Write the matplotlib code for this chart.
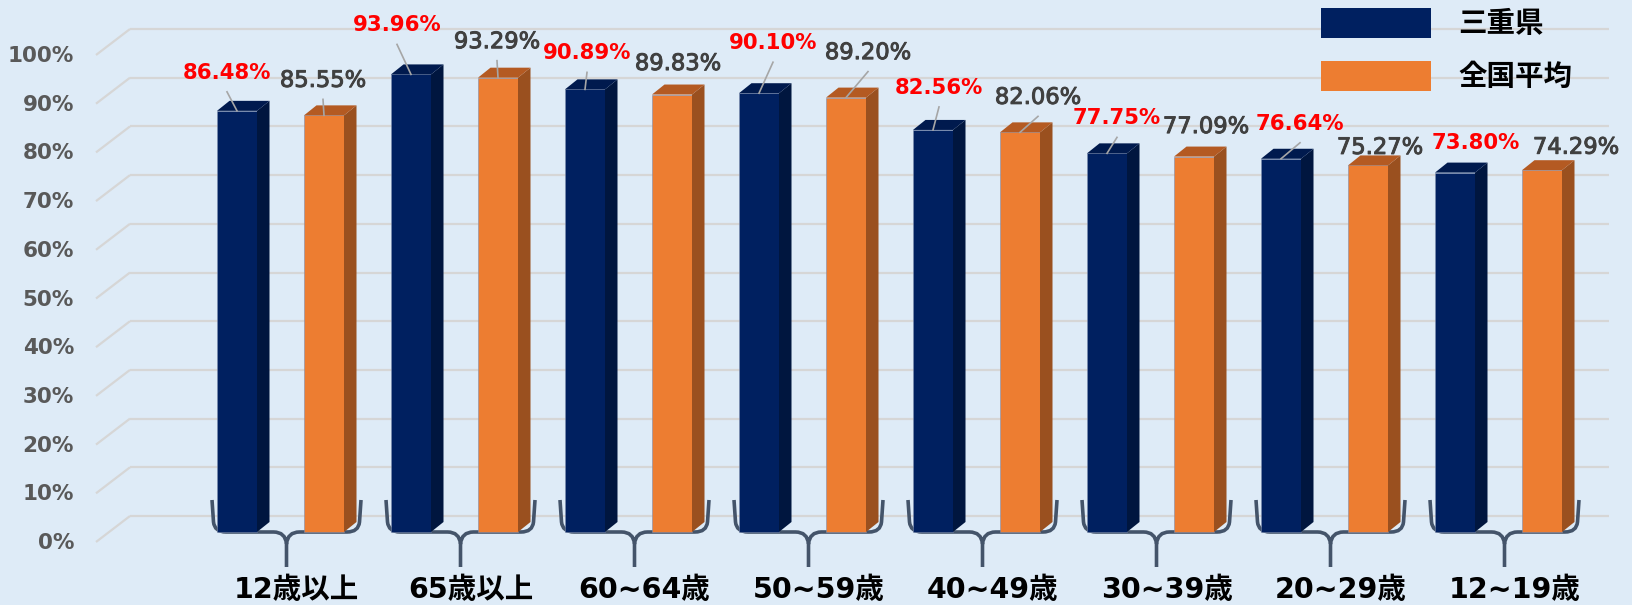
import matplotlib
matplotlib.use("Agg")
import matplotlib.pyplot as plt
import matplotlib.patheffects as pe
from matplotlib.patches import Polygon, Rectangle, PathPatch
from matplotlib.path import Path

# ---- data -------------------------------------------------------------
categories = ["12歳以上", "65歳以上", "60~64歳", "50~59歳",
              "40~49歳", "30~39歳", "20~29歳", "12~19歳"]
series_names = ["三重県", "全国平均"]
mie = [86.48, 93.96, 90.89, 90.10, 82.56, 77.75, 76.64, 73.80]
national = [85.55, 93.29, 89.83, 89.20, 82.06, 77.09, 75.27, 74.29]
y_ticks = [0, 10, 20, 30, 40, 50, 60, 70, 80, 90, 100]

# label placement (pixels, relative to the top-front centre of each bar)
mie_label_off = [(-10, 38), (-14, 49), (2, 36), (14, 50),
                 (6, 42), (10, 35), (19, 35), (21, 30)]
nat_label_off = [(-1, 35), (-1, 36), (6, 31), (22, 45),
                 (18, 35), (12, 30), (12, 18), (34, 23)]
mie_leader = [True, True, True, True, True, True, True, False]
nat_leader = [True, True, False, True, True, False, False, False]

# ---- colours ------------------------------------------------------------
BG = "#DEEBF7"
BLUE_FRONT, BLUE_SIDE, BLUE_TOP = "#002060", "#00163F", "#001A4E"
ORG_FRONT, ORG_SIDE, ORG_TOP = "#ED7D31", "#9A501F", "#B45A22"
GRID = "#D6D6D6"
BRACE = "#44546A"

# ---- canvas geometry (pixel scale) ---------------------------------------
W, H = 1633, 605
PX = 87.0      # pixels per bar slot
PY = 4.87      # pixels per percentage point
X0, Y0 = 237, 532  # pixel position of slot 0 / 0 %


def xpix(p):
    return (p - X0) / PX


def ypix(p):
    return (Y0 - p) / PY


def dxp(p):
    return p / PX


def dyp(p):
    return p / PY


fig = plt.figure(figsize=(W / 100, H / 100), dpi=100)
fig.patch.set_facecolor(BG)
ax = fig.add_axes([0, 0, 1, 1])
ax.set_facecolor(BG)
ax.set_xlim(xpix(0), xpix(W))
ax.set_ylim(ypix(H), ypix(0))
ax.axis("off")

# ---- gridlines with perspective side wall ---------------------------------
back_up, front_down = dyp(16), dyp(10)
for v in y_ticks:
    ax.plot([xpix(130), xpix(1609)], [v + back_up] * 2, color=GRID, lw=1.6,
            zorder=1, solid_capstyle="butt")
    ax.plot([xpix(96), xpix(130)], [v - front_down, v + back_up], color=GRID,
            lw=1.6, zorder=1, solid_capstyle="butt")
    ax.text(xpix(74), v - dyp(11), f"{v}%", ha="right", va="center",
            fontsize=15.5, fontweight="bold", color="#595959",
            family="DejaVu Sans")

# ---- 3-D bars --------------------------------------------------------------
bw = 40 / PX
ddx, ddy = dxp(12.5), dyp(10)


def draw_bars(values, offset, front, side, top):
    xs = [2 * g + offset for g in range(len(values))]
    ax.bar(xs, values, width=bw, color=front, edgecolor="#7F8FAF",
           linewidth=0.4, zorder=3)
    for x, v in zip(xs, values):
        r = x + bw / 2
        l = x - bw / 2
        ax.add_patch(Polygon([(r, 0), (r + ddx, ddy), (r + ddx, v + ddy), (r, v)],
                             closed=True, facecolor=side, edgecolor="none",
                             zorder=3))
        ax.add_patch(Polygon([(l, v), (l + ddx, v + ddy), (r + ddx, v + ddy), (r, v)],
                             closed=True, facecolor=top, edgecolor="none",
                             zorder=3))
    return xs


mie_x = draw_bars(mie, 0, BLUE_FRONT, BLUE_SIDE, BLUE_TOP)
nat_x = draw_bars(national, 1, ORG_FRONT, ORG_SIDE, ORG_TOP)

# ---- value labels with leader lines ------------------------------------------
def draw_labels(xs, values, offs, leaders, color, weight, size, stroke):
    for x, v, (ox, oy), lead in zip(xs, values, offs, leaders):
        lx, ly = x + dxp(ox), v + dyp(oy)
        t = ax.text(lx, ly, f"{v:.2f}%", ha="center", va="center", color=color,
                    fontsize=size, fontweight=weight, family="DejaVu Sans",
                    zorder=5)
        if stroke:
            t.set_path_effects([pe.withStroke(linewidth=stroke, foreground=color)])
        if lead:
            ax.plot([lx, x], [ly - dyp(19), v], color="#A6A6A6", lw=1.2,
                    zorder=4)


draw_labels(mie_x, mie, mie_label_off, mie_leader, "#FF0000", "bold", 15.3, 0)
draw_labels(nat_x, national, nat_label_off, nat_leader, "#404040", "normal",
            16.3, 0.7)

# ---- group braces and category labels ----------------------------------------
half = 74.5
for g, cat in enumerate(categories):
    cx = 2 * g + 0.569
    pts_px = [(-half, -32), (-half + 1.5, -10), (-half + 2.5, 0), (-half + 14, 0),
              (-13, 0), (-1, 0), (0, 12), (0, 35),
              (0, 12), (1, 0), (13, 0),
              (half - 14, 0), (half - 2.5, 0), (half - 1.5, -10), (half, -32)]
    codes = [Path.MOVETO, Path.LINETO, Path.CURVE3, Path.CURVE3,
             Path.LINETO, Path.CURVE3, Path.CURVE3, Path.LINETO,
             Path.MOVETO, Path.CURVE3, Path.CURVE3,
             Path.LINETO, Path.CURVE3, Path.CURVE3, Path.LINETO]
    verts = [(cx + dxp(px), -dyp(py)) for px, py in pts_px]
    ax.add_patch(PathPatch(Path(verts, codes), facecolor="none",
                           edgecolor=BRACE, lw=2.6, zorder=2,
                           capstyle="butt", joinstyle="round"))
    ax.text(cx + dxp(10), ypix(590), cat, ha="center", va="center",
            fontsize=20.5, fontweight="bold", color="black",
            family=["DejaVu Sans", "Noto Sans CJK JP"])

# ---- legend ------------------------------------------------------------------
for name, col, top_px in zip(series_names, [BLUE_FRONT, ORG_FRONT], [8, 61]):
    ax.add_patch(Rectangle((xpix(1321), ypix(top_px + 30)), dxp(110), dyp(30),
                           facecolor=col, edgecolor="none", zorder=5))
    ax.text(xpix(1458), ypix(top_px + 16), name, ha="left", va="center",
            fontsize=20.5, fontweight="bold", color="black",
            family=["Noto Sans CJK JP", "DejaVu Sans"], zorder=5)

fig.savefig("out.png", dpi=100, facecolor=BG)
